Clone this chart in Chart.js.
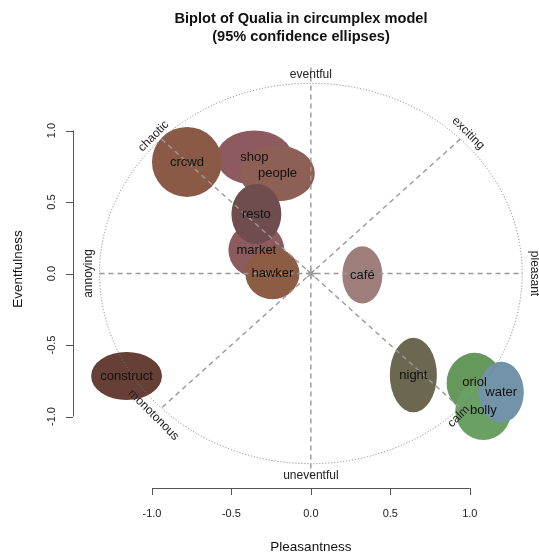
<!DOCTYPE html>
<html>
<head>
<meta charset="utf-8">
<script src="https://cdn.jsdelivr.net/npm/chart.js@4/dist/chart.umd.min.js"></script>
<style>
  body { margin: 0; background: #fff; }
  canvas { display: block; }
</style>
</head>
<body>
<canvas id="biplot" width="539" height="556"></canvas>
<script>
// ---- data ----
const places       = ['shop', 'people', 'crcwd', 'market', 'resto', 'hawker', 'café', 'night', 'construct', 'oriol', 'bolly', 'water'];
const pleasantness = [-0.355, -0.21, -0.78, -0.343, -0.343, -0.242, 0.324, 0.645, -1.16, 1.03, 1.085, 1.198];
const eventfulness = [0.81, 0.70, 0.78, 0.164, 0.416, 0.0, -0.01, -0.71, -0.717, -0.765, -0.96, -0.83];
const ellipseW     = [0.24, 0.235, 0.22, 0.176, 0.157, 0.17, 0.126, 0.148, 0.223, 0.176, 0.176, 0.142];
const ellipseH     = [0.19, 0.195, 0.245, 0.19, 0.21, 0.18, 0.2, 0.26, 0.168, 0.21, 0.205, 0.213];
const fills        = ['#8d5b5f', '#8e5f55', '#8a5a46', '#8b5b5e', '#6f4d4e', '#8c5c45', '#9e7e7b', '#6b6750', '#663f36', '#66985c', '#6aa064', '#7393a8'];

const xTicks = [-1.0, -0.5, 0.0, 0.5, 1.0];
const yTicks = [-1.0, -0.5, 0.0, 0.5, 1.0];

// circumplex words around the circle
const moods    = ['eventful', 'exciting', 'pleasant', 'calm', 'uneventful', 'monotonous', 'annoying', 'chaotic'];
const moodX    = [0, 0.99, 1.405, 0.93, 0, -0.99, -1.40, -0.99];
const moodY    = [1.39, 0.98, 0.0, -1.0, -1.416, -0.99, 0.0, 0.96];
const moodTurn = [0, 45, 90, -45, 0, 45, -90, -45];
const circleR = 1.33;

const FONT = '"Liberation Sans", Arial, Helvetica, sans-serif';

// ---- drawing helpers ----
const circumplex = {
  id: 'circumplex',
  beforeDatasetsDraw(chart) {
    const ctx = chart.ctx, xs = chart.scales.x, ys = chart.scales.y;
    const px = v => xs.getPixelForValue(v), py = v => ys.getPixelForValue(v);
    const cx = px(0), cy = py(0);

    ctx.save();
    // ellipses
    places.forEach((p, i) => {
      ctx.beginPath();
      ctx.ellipse(px(pleasantness[i]), py(eventfulness[i]),
        Math.abs(px(ellipseW[i]) - cx), Math.abs(py(ellipseH[i]) - cy), 0, 0, Math.PI * 2);
      ctx.fillStyle = fills[i];
      ctx.fill();
    });

    // dotted circle
    ctx.beginPath();
    ctx.ellipse(cx, cy, px(circleR) - cx, cy - py(circleR), 0, 0, Math.PI * 2);
    ctx.strokeStyle = '#777';
    ctx.lineWidth = 1;
    ctx.setLineDash([1, 2]);
    ctx.stroke();

    // dashed axes of the circumplex
    ctx.setLineDash([5, 4]);
    ctx.strokeStyle = '#999';
    ctx.lineWidth = 1.4;
    const d = circleR * Math.SQRT1_2;
    const lines = [[-circleR, 0, circleR, 0], [0, 1.44, 0, -1.44], [-d, d, d, -d], [d, d, -d, -d]];
    lines.forEach(l => {
      ctx.beginPath();
      ctx.moveTo(px(l[0]), py(l[1]));
      ctx.lineTo(px(l[2]), py(l[3]));
      ctx.stroke();
    });
    ctx.setLineDash([]);

    // labels on ellipses
    ctx.fillStyle = '#111';
    ctx.font = '13px ' + FONT;
    ctx.textAlign = 'center';
    ctx.textBaseline = 'middle';
    places.forEach((p, i) => {
      ctx.fillText(p, px(pleasantness[i]), py(eventfulness[i]));
    });

    // circumplex words
    ctx.font = '12px ' + FONT;
    ctx.fillStyle = '#222';
    moods.forEach((m, i) => {
      ctx.save();
      ctx.translate(px(moodX[i]), py(moodY[i]));
      ctx.rotate(moodTurn[i] * Math.PI / 180);
      ctx.fillText(m, 0, 0);
      ctx.restore();
    });
    ctx.restore();
  },
  afterDraw(chart) {
    const ctx = chart.ctx, xs = chart.scales.x, ys = chart.scales.y;
    const axisY = 488, axisX = 73;
    ctx.save();
    ctx.strokeStyle = '#555';
    ctx.lineWidth = 1;
    ctx.fillStyle = '#222';
    ctx.font = '11px ' + FONT;
    ctx.textAlign = 'center';
    ctx.textBaseline = 'middle';

    // bottom axis
    ctx.beginPath();
    ctx.moveTo(xs.getPixelForValue(xTicks[0]), axisY + 0.5);
    ctx.lineTo(xs.getPixelForValue(xTicks[xTicks.length - 1]), axisY + 0.5);
    xTicks.forEach(t => {
      const x = Math.round(xs.getPixelForValue(t)) + 0.5;
      ctx.moveTo(x, axisY);
      ctx.lineTo(x, axisY + 7);
    });
    ctx.stroke();
    xTicks.forEach(t => ctx.fillText(t.toFixed(1), xs.getPixelForValue(t), axisY + 26));

    // left axis
    ctx.beginPath();
    ctx.moveTo(axisX + 0.5, ys.getPixelForValue(yTicks[0]));
    ctx.lineTo(axisX + 0.5, ys.getPixelForValue(yTicks[yTicks.length - 1]));
    yTicks.forEach(t => {
      const y = Math.round(ys.getPixelForValue(t)) + 0.5;
      ctx.moveTo(axisX, y);
      ctx.lineTo(axisX - 7, y);
    });
    ctx.stroke();
    yTicks.forEach(t => {
      ctx.save();
      ctx.translate(axisX - 21, ys.getPixelForValue(t));
      ctx.rotate(-Math.PI / 2);
      ctx.fillText(t.toFixed(1), 0, 0);
      ctx.restore();
    });

    // axis titles
    ctx.fillStyle = '#111';
    ctx.font = '13.5px ' + FONT;
    ctx.fillText('Pleasantness', xs.getPixelForValue(0), 547);
    ctx.save();
    ctx.translate(18, 269);
    ctx.rotate(-Math.PI / 2);
    ctx.fillText('Eventfulness', 0, 0);
    ctx.restore();

    // main title
    ctx.font = 'bold 14.6px ' + FONT;
    ctx.fillText('Biplot of Qualia in circumplex model', 301, 19);
    ctx.fillText('(95% confidence ellipses)', 301, 37);
    ctx.restore();
  }
};

const ctx = document.getElementById('biplot').getContext('2d');
const biplot = new Chart(ctx, {
  type: 'scatter',
  data: {
    datasets: [{
      label: 'origin',
      data: [{ x: 0, y: 0 }],
      pointStyle: 'star',
      pointRadius: 5,
      borderColor: '#999',
      borderWidth: 1.3,
      backgroundColor: '#999'
    }]
  },
  options: {
    responsive: false,
    animation: false,
    layout: { padding: { left: 73, right: 0, top: 59, bottom: 68 } },
    plugins: { legend: { display: false }, tooltip: { enabled: false } },
    scales: {
      x: { type: 'linear', min: -1.497, max: 1.396, display: false },
      y: { type: 'linear', min: -1.5, max: 1.5, display: false }
    }
  },
  plugins: [circumplex]
});
</script>
</body>
</html>
